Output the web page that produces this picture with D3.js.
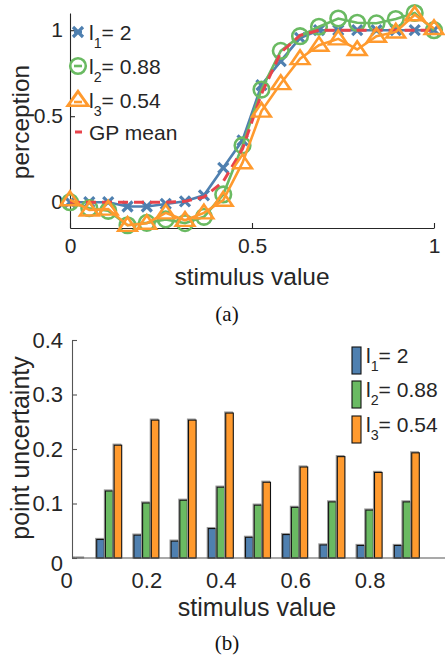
<!DOCTYPE html>
<html><head><meta charset="utf-8">
<script src="https://cdn.jsdelivr.net/npm/d3@7"></script>
<style>
html,body{margin:0;padding:0;background:#fff;}
text{font-family:"Liberation Sans",Arial,Helvetica,sans-serif;fill:#262626;}
</style></head>
<body>
<svg id="c" width="445" height="655"></svg>
<script>
// ---------- data: panel (a) ----------
const stimulus = [0,0.053,0.105,0.158,0.211,0.263,0.316,0.368,0.421,0.474,0.526,0.579,0.632,0.684,0.737,0.789,0.842,0.895,0.947,1];
const perceptionL1 = [0,0,0,-0.025,-0.025,-0.01,0.005,0.04,0.2,0.36,0.68,0.82,0.955,1,1,1,1,1,1,1];
const perceptionL2 = [0,-0.035,-0.05,-0.134,-0.12,-0.1,-0.122,-0.085,0.045,0.33,0.655,0.88,0.965,1.02,1.068,1.043,1.04,1.065,1.1,1.0];
const perceptionL3 = [0.015,-0.045,-0.04,-0.134,-0.122,-0.062,-0.105,-0.062,0.012,0.23,0.53,0.69,0.835,0.913,0.95,0.888,0.965,0.99,1.09,1.01];
const gpMean = [0,0,0,0,0,0,0.005,0.03,0.12,0.31,0.63,0.87,0.97,1,1,1,1,1,1,1];
const seriesLabels = [["l","1","= 2"],["l","2","= 0.88"],["l","3","= 0.54"]];
const topXTicks = [0,0.5,1];
const topYTicks = [0,0.5,1];

// ---------- data: panel (b) ----------
const barX = [0,0.1,0.2,0.3,0.4,0.5,0.6,0.7,0.8,0.9];
const uncL1 = [0,0.034,0.042,0.031,0.054,0.038,0.043,0.024,0.023,0.023];
const uncL2 = [0,0.123,0.101,0.106,0.130,0.097,0.093,0.103,0.088,0.103];
const uncL3 = [0,0.207,0.253,0.253,0.266,0.139,0.167,0.186,0.157,0.193];
const botXTicks = [0,0.2,0.4,0.6,0.8];
const botYTicks = [0,0.1,0.2,0.3,0.4];

const colors = ["#4f80b0","#6aba62","#ff9a2e"];
const red = "#e8434b";
const ink = "#262626";
const svg = d3.select("#c");

function subLabel(g, x, y, parts, fs){
  const t = g.append("text").attr("x",x).attr("y",y).style("font-size",fs+"px");
  t.append("tspan").text(parts[0]);
  t.append("tspan").attr("dy",8).style("font-size",(fs*0.68)+"px").text(parts[1]);
  t.append("tspan").attr("dy",-8).text(parts[2]);
}

// ================= panel (a) =================
const xA = d3.scaleLinear().domain([0,1]).range([70,434]);
const yA = d3.scaleLinear().domain([-0.15,1.1]).range([228,13]);
const gA = svg.append("g");

const axA_x = gA.append("g").attr("transform",`translate(0,${yA(-0.15)})`)
  .call(d3.axisBottom(xA).tickValues(topXTicks).tickSizeInner(-5).tickSizeOuter(0).tickPadding(10).tickFormat(d3.format("")));
const axA_y = gA.append("g").attr("transform",`translate(${xA(0)},0)`)
  .call(d3.axisLeft(yA).tickValues(topYTicks).tickSizeInner(-5).tickSizeOuter(0).tickPadding(7).tickFormat(d3.format("")));
[axA_x,axA_y].forEach(a=>{
  a.select(".domain").attr("stroke",ink).attr("stroke-width",1.1);
  a.selectAll(".tick line").attr("stroke",ink).attr("stroke-width",1.1);
  a.selectAll(".tick text").style("font-size","21px").attr("fill",ink).style("font-family","Liberation Sans, Arial, sans-serif");
});

const line = d3.line().x((d,i)=>xA(stimulus[i])).y(d=>yA(d));
// blue
gA.append("path").datum(perceptionL1).attr("d",line).attr("fill","none").attr("stroke",colors[0]).attr("stroke-width",2.6);
function xMark(sel, s){ sel.append("path").attr("d",`M${-s},${-s}L${s},${s}M${-s},${s}L${s},${-s}`); }
gA.append("g").selectAll("g").data(perceptionL1).join("g")
  .attr("transform",(d,i)=>`translate(${xA(stimulus[i])},${yA(d)})`)
  .attr("stroke",colors[0]).attr("stroke-width",3.2).each(function(){ xMark(d3.select(this),5); });
// green
gA.append("path").datum(perceptionL2).attr("d",line).attr("fill","none").attr("stroke",colors[1]).attr("stroke-width",2.6);
gA.append("g").selectAll("circle").data(perceptionL2).join("circle")
  .attr("cx",(d,i)=>xA(stimulus[i])).attr("cy",d=>yA(d)).attr("r",7.8)
  .attr("fill","none").attr("stroke",colors[1]).attr("stroke-width",2.6);
// GP mean
gA.append("path").datum(gpMean).attr("d",line).attr("fill","none").attr("stroke",red).attr("stroke-width",3).attr("stroke-dasharray","10,6");
// orange
const tri = d3.symbol().type(d3.symbolTriangle).size(150);
gA.append("path").datum(perceptionL3).attr("d",line).attr("fill","none").attr("stroke",colors[2]).attr("stroke-width",2.6);
gA.append("g").selectAll("path").data(perceptionL3).join("path")
  .attr("d",tri).attr("transform",(d,i)=>`translate(${xA(stimulus[i])},${yA(d)+1}) scale(1,0.85)`)
  .attr("fill","none").attr("stroke",colors[2]).attr("stroke-width",2.8);

// legend (a)
const legA = gA.append("g");
const legY = [32,66,100,132];
legA.append("line").attr("x1",74).attr("x2",82).attr("y1",legY[0]).attr("y2",legY[0]).attr("stroke",colors[0]).attr("stroke-width",2.6);
legA.append("g").attr("transform",`translate(78,${legY[0]})`).attr("stroke",colors[0]).attr("stroke-width",3.2).each(function(){ xMark(d3.select(this),5); });
legA.append("line").attr("x1",74).attr("x2",82).attr("y1",legY[1]).attr("y2",legY[1]).attr("stroke",colors[1]).attr("stroke-width",2.6);
legA.append("circle").attr("cx",78).attr("cy",legY[1]).attr("r",7.8).attr("fill","none").attr("stroke",colors[1]).attr("stroke-width",2.6);
legA.append("line").attr("x1",74).attr("x2",82).attr("y1",legY[2]+2).attr("y2",legY[2]+2).attr("stroke",colors[2]).attr("stroke-width",2.6);
legA.append("path").attr("d",tri).attr("transform",`translate(78,${legY[2]+1}) scale(1.1,0.9)`).attr("fill","none").attr("stroke",colors[2]).attr("stroke-width",2.8);
legA.append("line").attr("x1",75).attr("x2",82).attr("y1",legY[3]).attr("y2",legY[3]).attr("stroke",red).attr("stroke-width",3);
seriesLabels.forEach((p,i)=>subLabel(legA, 89, legY[i]+8, p, 21));
legA.append("text").attr("x",89).attr("y",legY[3]+8).style("font-size","21px").text("GP mean");

gA.append("text").attr("x",252).attr("y",285).attr("text-anchor","middle").style("font-size","24.5px").text("stimulus value");
gA.append("text").attr("transform","translate(29,122) rotate(-90)").attr("text-anchor","middle").style("font-size","24.5px").text("perception");
svg.append("text").attr("x",227).attr("y",321).attr("text-anchor","middle")
  .style("font-family","Liberation Serif, Times New Roman, serif").style("font-size","21px").style("fill","#111").text("(a)");

// ================= panel (b) =================
const xB = d3.scaleLinear().domain([0,1]).range([72,444]);
const yB = d3.scaleLinear().domain([0,0.4]).range([558,340]);
const gB = svg.append("g");
svg.append("defs").append("clipPath").attr("id","clipB").append("rect").attr("x",72).attr("y",330).attr("width",373).attr("height",229);

const sub = d3.scaleBand().domain([0,1,2]).range([-12.5,12.5]).paddingInner(0.13);
const uncs = [uncL1,uncL2,uncL3];
const barsG = gB.append("g").attr("clip-path","url(#clipB)");
barX.forEach((bx,gi)=>{
  uncs.forEach((arr,si)=>{
    const x0 = xB(bx)+sub(si), w = sub.bandwidth(), y0 = yB(arr[gi]), h = yB(0)-yB(arr[gi]);
    barsG.append("rect").attr("x",x0-1).attr("y",y0-1).attr("width",w).attr("height",h+1)
      .attr("fill","none").attr("stroke","#999").attr("stroke-width",1.2);
    barsG.append("rect").attr("x",x0).attr("y",y0).attr("width",w).attr("height",h)
      .attr("fill",colors[si]).attr("stroke","#111").attr("stroke-width",1.1);
  });
});

const axB_x = gB.append("g").attr("transform",`translate(0,${yB(0)})`)
  .call(d3.axisBottom(xB).tickValues(botXTicks).tickSize(0).tickPadding(14).tickFormat(d3.format("")));
axB_x.select(".domain").attr("stroke","#555").attr("stroke-width",1.1).attr("d",`M72,0H445`);
axB_x.selectAll(".tick text").filter(d=>d===0).attr("dx",-6);
const axB_y = gB.append("g").attr("transform",`translate(${xB(0)},0)`)
  .call(d3.axisLeft(yB).tickValues(botYTicks).tickSizeInner(-5).tickSizeOuter(0).tickPadding(9).tickFormat(d3.format("")));
axB_y.select(".domain").attr("stroke","#555").attr("stroke-width",1.1);
axB_y.selectAll(".tick line").attr("stroke","#555").attr("stroke-width",1.1);
[axB_x,axB_y].forEach(a=>a.selectAll(".tick text").style("font-size","22px").attr("fill",ink).style("font-family","Liberation Sans, Arial, sans-serif"));
axB_y.selectAll(".tick text").filter(d=>d===0).attr("dy","0.55em");

// legend (b)
const legB = gB.append("g");
const legBY = [347,381,416];
legBY.forEach((y,i)=>{
  legB.append("rect").attr("x",352).attr("y",y).attr("width",9).attr("height",27)
    .attr("fill",colors[i]).attr("stroke","#111").attr("stroke-width",1.1);
  subLabel(legB, 366, y+16, seriesLabels[i], 21);
});

gB.append("text").attr("x",257).attr("y",616).attr("text-anchor","middle").style("font-size","25px").text("stimulus value");
gB.append("text").attr("transform","translate(29,448) rotate(-90)").attr("text-anchor","middle").style("font-size","25px").text("point uncertainty");
svg.append("text").attr("x",227).attr("y",650).attr("text-anchor","middle")
  .style("font-family","Liberation Serif, Times New Roman, serif").style("font-size","21px").style("fill","#111").text("(b)");
</script>
</body></html>
